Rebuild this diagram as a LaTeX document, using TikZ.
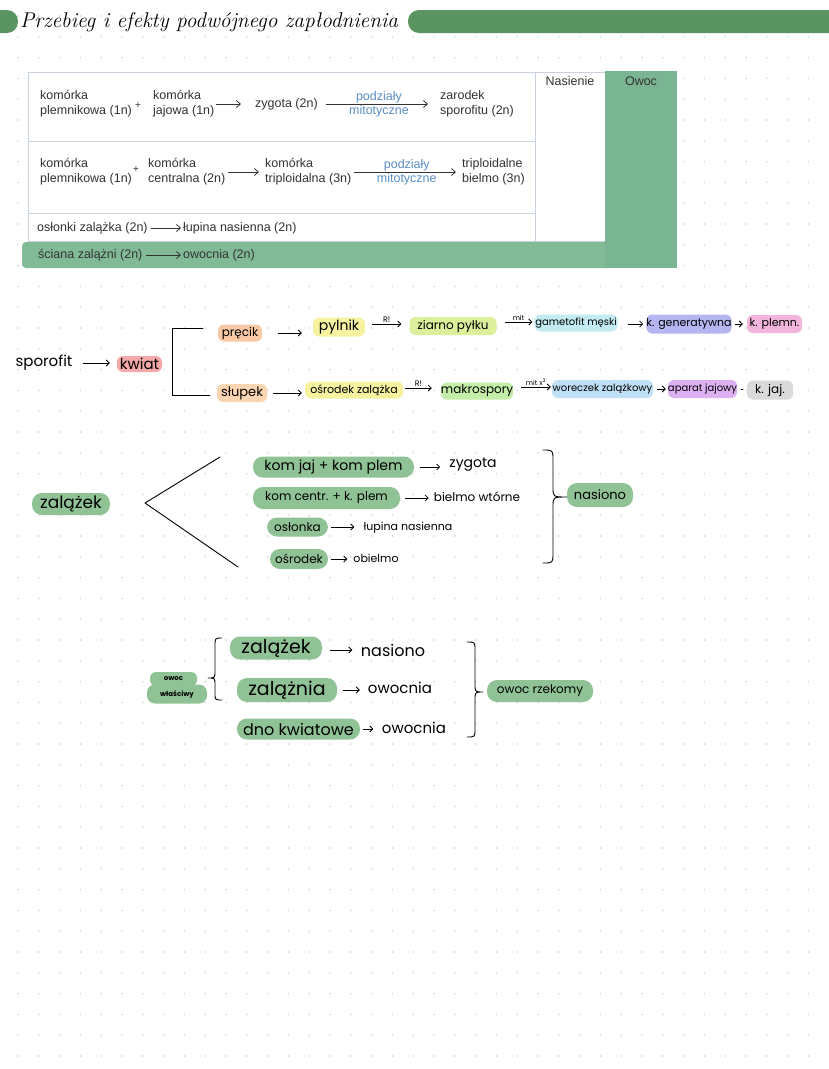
\documentclass[tikz,border=0pt]{standalone}
\usepackage{fontspec}
\newfontfamily\tabfont{Liberation Sans}
\newfontfamily\handfont{Poppins}
\usetikzlibrary{arrows.meta}
\definecolor{titlegreen}{HTML}{5A9460}
\definecolor{tabgreen}{HTML}{79B593}
\definecolor{rowgreen}{HTML}{80BA97}
\definecolor{pillgreen}{HTML}{8FC295}
\definecolor{tabline}{HTML}{C7D2DC}
\definecolor{tabtext}{HTML}{333333}
\definecolor{tabblue}{HTML}{5B8EC6}
\definecolor{dotc}{HTML}{D2D2D2}
\definecolor{hlpink}{HTML}{F4A9A8}
\definecolor{hlpeach}{HTML}{F9C9A6}
\definecolor{hlpeachb}{HTML}{FCD5B2}
\definecolor{hlyellow}{HTML}{F6F2A0}
\definecolor{hllime}{HTML}{DCEF9B}
\definecolor{hlcyan}{HTML}{C2ECF2}
\definecolor{hllav}{HTML}{B5B5F2}
\definecolor{hlmag}{HTML}{F4B5DC}
\definecolor{hlgreen}{HTML}{C4EDA7}
\definecolor{hlblue}{HTML}{C0E0F7}
\definecolor{hlviolet}{HTML}{DDB0F2}
\definecolor{hlgray}{HTML}{DADADA}
\tikzset{
  tabtxt/.style={font=\tabfont\fontsize{12.5}{15}\selectfont, text=tabtext, align=left, inner sep=0pt, anchor=west},
  tabhead/.style={font=\tabfont\fontsize{12.5}{15}\selectfont, text=tabtext, inner sep=0pt},
  tabarr/.style={draw=tabtext, line width=0.8pt, -{Straight Barb[length=4pt,width=7pt]}},
  tablbl/.style={font=\tabfont\fontsize{12.5}{15}\selectfont, text=tabblue, inner sep=1pt},
  hl/.style={rounded corners=6pt, inner sep=0pt, text=black},
  pill/.style={fill=pillgreen, rounded corners=10pt, inner sep=0pt, text=black},
  htxt/.style={inner sep=0pt, text=black},
  harr/.style={line width=0.8pt, -{Straight Barb[length=3pt,width=6pt]}},
  hline/.style={line width=0.9pt, line cap=round, line join=round},
  fs/.style={font=\handfont\fontsize{#1}{#1}\selectfont},
  arrlbl/.style={inner sep=0pt, above=1.5pt},
}
\begin{document}
\begin{tikzpicture}[x=1pt,y=-1pt]
\useasboundingbox (0,0) rectangle (828,1069);
\fill[white] (0,0) rectangle (828,1069);
% dot grid
\foreach \i in {0,...,38}{
  \foreach \j in {0,...,50}{
    \fill[dotc] (18+20.8*\i,16+20.8*\j) circle (0.9);
  }
}
% title
\fill[titlegreen, rounded corners=11pt] (-30,10) rectangle (18,33);
\fill[titlegreen, rounded corners=11pt] (408,10) rectangle (860,33);
\node[anchor=west, inner sep=0pt, font=\fontsize{21.3}{24}\selectfont\itshape] (title) at (20,22) {Przebieg i efekty podwójnego zapłodnienia};

% table
\fill[white] (28,72) rectangle (677,268);
\fill[tabgreen] (605,71) rectangle (677,268);
\fill[rowgreen, rounded corners=4pt] (22,242) rectangle (612,268);
\fill[tabgreen] (605,242) rectangle (677,268);
\draw[tabline, line width=0.8pt] (28,242) -- (28,72) -- (605,72);
\draw[tabline, line width=0.8pt] (535,72) -- (535,242);
\draw[tabline, line width=0.8pt] (28,141.7) -- (535,141.7);
\draw[tabline, line width=0.8pt] (28,213.3) -- (535,213.3);
\draw[tabline, line width=0.8pt] (28,241.5) -- (605,241.5);
\node[tabhead] (hnas) at (570,81) {Nasienie};
\node[tabhead] (howoc) at (641,81) {Owoc};

% row 1
\node[tabtxt] (r11) at (40,104) {komórka\\plemnikowa (1n)};
\node[tabtxt, font=\tabfont\fontsize{10}{10}\selectfont] (p1) at (135,106) {+};
\node[tabtxt] (r12) at (153,104) {komórka\\jajowa (1n)};
\node[tabtxt] (r13) at (255,104) {zygota (2n)};
\node[tabtxt] (r14) at (440,104) {zarodek\\sporofitu (2n)};
\draw[tabarr, shorten <=1pt, shorten >=14pt] (r12.east) -- (r13.west);
\draw[tabarr, shorten <=8pt, shorten >=12pt] (r13.east) -- (r14.west)
  node[midway, above, tablbl] (l1a) {podziały}
  node[midway, below, tablbl] (l1b) {mitotyczne};

% row 2
\node[tabtxt] (r21) at (40,172) {komórka\\plemnikowa (1n)};
\node[tabtxt, font=\tabfont\fontsize{10}{10}\selectfont] (p2) at (133,170) {+};
\node[tabtxt] (r22) at (148,172) {komórka\\centralna (2n)};
\node[tabtxt] (r23) at (265,172) {komórka\\triploidalna (3n)};
\node[tabtxt] (r24) at (462,172) {triploidalne\\bielmo (3n)};
\draw[tabarr, shorten <=2pt, shorten >=6pt] (r22.east) -- (r23.west);
\draw[tabarr, shorten <=2pt, shorten >=6pt] (r23.east) -- (r24.west)
  node[midway, above, tablbl] (l2a) {podziały}
  node[midway, below, tablbl] (l2b) {mitotyczne};

% row 3, 4
\node[tabtxt] (r31) at (37,228) {osłonki zalążka (2n)};
\node[tabtxt] (r32) at (183,228) {łupina nasienna (2n)};
\draw[tabarr, shorten <=3pt, shorten >=2pt] (r31.east) -- (r32.west);
\node[tabtxt] (r41) at (38,255) {ściana zalążni (2n)};
\node[tabtxt] (r42) at (183,255) {owocnia (2n)};
\draw[tabarr, shorten <=3pt, shorten >=2pt] (r41.east) -- (r42.west);

% sporofit section
\node[htxt, minimum width=62, fs=15] (sp) at (44,363) {sporofit};
\node[hl, fill=hlpink, minimum width=45, minimum height=16, fs=15] (kw) at (139.5,364) {kwiat};
\node[hl, fill=hlpeach, minimum width=44, minimum height=17, fs=12] (pr) at (240,333) {pręcik};
\node[hl, fill=hlyellow, minimum width=52, minimum height=19, fs=14] (py) at (339,327) {pylnik};
\node[hl, fill=hllime, minimum width=87, minimum height=18, fs=12] (zp) at (453,326) {ziarno pyłku};
\node[hl, fill=hlcyan, minimum width=83, minimum height=17, fs=10] (gm) at (576,323) {gametofit męski};
\node[hl, fill=hllav, minimum width=82, minimum height=19, fs=11] (kg) at (689,324) {k. generatywna};
\node[hl, fill=hlmag, minimum width=55, minimum height=18, fs=11] (kp) at (774.5,324) {k. plemn.};
\node[hl, fill=hlpeachb, minimum width=50, minimum height=18, fs=13] (sl) at (242,393) {słupek};
\node[hl, fill=hlyellow, minimum width=98, minimum height=17, fs=11] (oz) at (354,390) {ośrodek zalążka};
\node[hl, fill=hlgreen, minimum width=70, minimum height=17, fs=12] (mk) at (477,391) {makrospory};
\node[hl, fill=hlblue, minimum width=101, minimum height=18, fs=10] (wz) at (602.5,389) {woreczek zalążkowy};
\node[hl, fill=hlviolet, minimum width=61, minimum height=18, fs=10] (aj) at (702.5,389) {aparat jajowy};
\node[hl, fill=hlgray, minimum width=46, minimum height=19, fs=12] (kj) at (770,390) {k. jaj.};

\coordinate (b1) at (203,328);
\coordinate (b2) at (172,328);
\coordinate (b3) at (172,395);
\coordinate (b4) at (210,395);
\draw[hline] (b1) -- (b2) -- (b3) -- (b4);

\draw[harr] ([xshift=8]sp.east) -- ([xshift=-7]sp.east -| kw.west);
\draw[harr] ([xshift=16]pr.east) -- ([xshift=-11]pr.east -| py.west);
\draw[harr] ([xshift=7,yshift=3]py.east) -- ([xshift=-8,yshift=3]py.east -| zp.west)
  node[midway, arrlbl, fs=8] (rl1) {R!};
\draw[harr] ([xshift=8,yshift=4]zp.east) -- ([xshift=-2,yshift=4]zp.east -| gm.west)
  node[midway, arrlbl, fs=7] (ml1) {mit};
\draw[harr] ([xshift=10]gm.east |- kg.west) -- ([xshift=-3]kg.west);
\draw[harr] ([xshift=3]kg.east) -- ([xshift=-4]kg.east -| kp.west);
\draw[harr] ([xshift=6]sl.east) -- ([xshift=-3]sl.east -| oz.west);
\draw[harr] ([xshift=2,yshift=2]oz.east) -- ([xshift=-9,yshift=2]oz.east -| mk.west)
  node[midway, arrlbl, fs=8] (rl2) {R!};
\draw[harr] ([xshift=8,yshift=4]mk.east) -- ([xshift=-1,yshift=4]mk.east -| wz.west)
  node[midway, arrlbl, fs=7] (ml2) {mit x\textsuperscript{3}};
\draw[harr] ([xshift=4]wz.east) -- ([xshift=-2]wz.east -| aj.west);
\draw[hline] ([xshift=4]aj.east) -- ([xshift=-4]aj.east -| kj.west);

% zalazek section
\node[pill, minimum width=78, minimum height=22, fs=17] (zl) at (71,504) {zalążek};
\coordinate (v1) at (220,457);
\coordinate (v2) at (145,503);
\coordinate (v3) at (238,567);
\draw[hline] (v1) -- (v2) -- (v3);
\node[pill, minimum width=161, minimum height=21, fs=14] (kjkp) at (333.5,467) {kom jaj + kom plem};
\node[htxt, minimum width=47, fs=14] (zyg) at (473,465) {zygota};
\node[pill, minimum width=147, minimum height=22, fs=12] (kc) at (326.5,498) {kom centr. + k. plem};
\node[htxt, minimum width=83, fs=12] (bw) at (477,497) {bielmo wtórne};
\node[pill, minimum width=61, minimum height=19, fs=12] (os) at (297.5,527) {osłonka};
\node[htxt, minimum width=103, fs=11] (lu) at (408,528) {łupina nasienna};
\node[pill, minimum width=58, minimum height=20, fs=12] (osr) at (299,559) {ośrodek};
\node[htxt, minimum width=53, fs=11] (ob) at (376,558) {obielmo};
\draw[harr] ([xshift=6]kjkp.east) -- ([xshift=-9]kjkp.east -| zyg.west);
\draw[harr] ([xshift=5]kc.east) -- ([xshift=-5]kc.east -| bw.west);
\draw[harr] ([xshift=3]os.east) -- ([xshift=-2]os.east -| lu.west);
\draw[harr] ([xshift=3]osr.east) -- ([xshift=-2]osr.east -| ob.west);
\draw[hline] (543,450) .. controls (553,450) .. (553,460) -- (553,487)
  .. controls (553,497) .. (567,497) .. controls (553,497) .. (553,507)
  -- (553,553) .. controls (553,563) .. (543,563);
\node[pill, minimum width=66, minimum height=24, fs=13] (nas) at (600,495) {nasiono};

% owoc section
\node[pill, rounded corners=6pt, minimum width=47, minimum height=14, font=\handfont\bfseries\fontsize{7}{7}\selectfont] (ow1) at (173.5,679) {owoc};
\node[pill, rounded corners=8pt, minimum width=60, minimum height=19, font=\handfont\bfseries\fontsize{7}{7}\selectfont] (ow2) at (177,694) {właściwy};
\draw[hline] (222,638) .. controls (215,638) .. (215,646) -- (215,671)
  .. controls (215,678) .. (208,678) .. controls (215,678) .. (215,685)
  -- (215,693) .. controls (215,700) .. (222,700);
\node[pill, minimum width=92, minimum height=23, fs=19] (zz) at (276,648) {zalążek};
\node[htxt, minimum width=67, fs=16] (nas2) at (393,650) {nasiono};
\node[pill, minimum width=100, minimum height=24, fs=19] (zn) at (287,690) {zalążnia};
\node[htxt, minimum width=66, fs=15] (ow3) at (400,688) {owocnia};
\node[pill, minimum width=123, minimum height=21, fs=16] (dk) at (298.5,729) {dno kwiatowe};
\node[htxt, minimum width=75, fs=15] (ow4) at (414,728) {owocnia};
\draw[harr] ([xshift=8,yshift=-2]zz.east) -- ([xshift=-7,yshift=-2]zz.east -| nas2.west);
\draw[harr] ([xshift=6]zn.east) -- ([xshift=-7]zn.east -| ow3.west);
\draw[harr] ([xshift=3]dk.east) -- ([xshift=-3]dk.east -| ow4.west);
\draw[hline] (467,642) .. controls (475,642) .. (475,650) -- (475,684)
  .. controls (475,692) .. (483,692) .. controls (475,692) .. (475,700)
  -- (475,729) .. controls (475,737) .. (467,737);
\node[pill, minimum width=106, minimum height=22, fs=12] (orz) at (540,691) {owoc rzekomy};
\end{tikzpicture}
\end{document}
